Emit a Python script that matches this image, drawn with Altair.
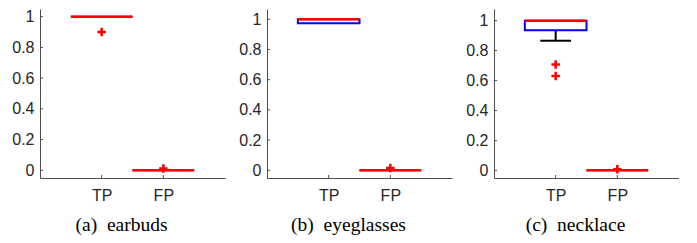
import altair as alt
import pandas as pd

# ---- data ----
panel_names = ["earbuds", "eyeglasses", "necklace"]
panel_tags = ["(a)", "(b)", "(c)"]
categories = ["TP", "FP"]
positions = [1, 2]

q1 = [[1.0, 0.0], [0.974, 0.0], [0.936, 0.0]]
median = [[1.0, 0.0], [1.0, 0.0], [1.0, 0.0]]
q3 = [[1.0, 0.0], [1.0, 0.0], [1.0, 0.0]]
whisker_lo = [[1.0, 0.0], [0.974, 0.0], [0.866, 0.0]]
whisker_hi = [[1.0, 0.0], [1.0, 0.0], [1.0, 0.0]]
outliers = [
    {"TP": [0.9], "FP": [0.012]},
    {"TP": [], "FP": [0.015]},
    {"TP": [0.708, 0.630], "FP": [0.008]},
]
y_domains = [[-0.05, 1.05], [-0.051, 1.068], [-0.051, 1.078]]
y_ticks = [0, 0.2, 0.4, 0.6, 0.8, 1]

BOX_HALF = 0.5
CAP_HALF = 0.25
W, H = 185, 169
AX = "#4d4d4d"
TXT = "#262626"

label_expr = " : ".join(
    [f"datum.value == {p} ? '{c}'" for p, c in zip(positions, categories)]
) + " : ''"

plus_path = "M-1,0L1,0M0,-1L0,1"


def panel(i):
    rows = []
    for j, c in enumerate(categories):
        p = positions[j]
        rows.append(dict(cat=c, pos=p, lo=p - BOX_HALF, hi=p + BOX_HALF,
                         clo=p - CAP_HALF, chi=p + CAP_HALF,
                         q1=q1[i][j], med=median[i][j], q3=q3[i][j],
                         wlo=whisker_lo[i][j], whi=whisker_hi[i][j]))
    df = pd.DataFrame(rows)
    out = pd.DataFrame([dict(pos=positions[j], v=v)
                        for j, c in enumerate(categories)
                        for v in outliers[i][c]])
    ticks_df = pd.DataFrame({"t": y_ticks})
    xt_df = pd.DataFrame({"pos": positions})

    xs = alt.Scale(domain=[0, 3], nice=False, zero=False)
    ys = alt.Scale(domain=y_domains[i], nice=False, zero=False)

    xaxis = alt.Axis(values=positions, labelExpr=label_expr, title=None,
                     grid=False, ticks=False, domainColor=AX, domainWidth=1,
                     labelFont="Liberation Sans", labelFontSize=16,
                     labelColor=TXT, labelPadding=9, labelOverlap=False)
    yaxis = alt.Axis(values=y_ticks, format="~g", title=None, grid=False,
                     ticks=False, domainColor=AX, domainWidth=1,
                     labelFont="Liberation Sans", labelFontSize=16,
                     labelColor=TXT, labelPadding=6, labelOverlap=False,
                     labelBound=False)

    def X(f):
        return alt.X(f, scale=xs, axis=xaxis)

    def Y(f):
        return alt.Y(f, scale=ys, axis=yaxis)

    base = alt.Chart(df)
    box = base.mark_rect(fill=None, stroke="#0000ff", strokeWidth=2).encode(
        x=X("lo:Q"), x2="hi:Q", y=Y("q1:Q"), y2="q3:Q")
    wdf = df[df["wlo"] < df["q1"]]
    whisk = alt.Chart(wdf).mark_rule(color="black", strokeWidth=2).encode(
        x=X("pos:Q"), y=Y("wlo:Q"), y2="q1:Q")
    cap = alt.Chart(wdf).mark_rule(color="black", strokeWidth=2).encode(
        x=X("clo:Q"), x2="chi:Q", y=Y("wlo:Q"))
    med = base.mark_rule(color="#ff0000", strokeWidth=2.5).encode(
        x=X("lo:Q"), x2="hi:Q", y=Y("med:Q"))
    pts = alt.Chart(out).mark_point(shape=plus_path, size=72, filled=False,
                                    color="#ff0000", strokeWidth=2.5, opacity=1).encode(
        x=X("pos:Q"), y=Y("v:Q"))
    yt = alt.Chart(ticks_df).mark_rule(color=AX, strokeWidth=1).encode(
        y=Y("t:Q"), x=alt.value(0), x2=alt.value(3))
    xt = alt.Chart(xt_df).mark_rule(color=AX, strokeWidth=1).encode(
        x=X("pos:Q"), y=alt.value(H), y2=alt.value(H - 3))

    layers = []
    if len(wdf):
        layers += [whisk, cap]
    layers += [box, med, yt, xt]
    if len(out):
        layers.append(pts)

    title = alt.TitleParams(
        text=f"{panel_tags[i]}\u00a0\u00a0{panel_names[i]}", orient="bottom",
        font="Liberation Serif", fontSize=19.5, fontWeight="normal",
        color="black", offset=13, dx=-11, anchor="middle")
    return alt.layer(*layers).properties(width=W, height=H, title=title)


chart = alt.hconcat(*[panel(i) for i in range(3)], spacing=13).properties(
    padding={"left": 3, "top": 0, "right": 0, "bottom": 0},
    background="white",
).configure_axis(labelOverlap=False).configure_view(stroke=None)

chart.save("out.html", embed_options={"renderer": "svg", "actions": False})
